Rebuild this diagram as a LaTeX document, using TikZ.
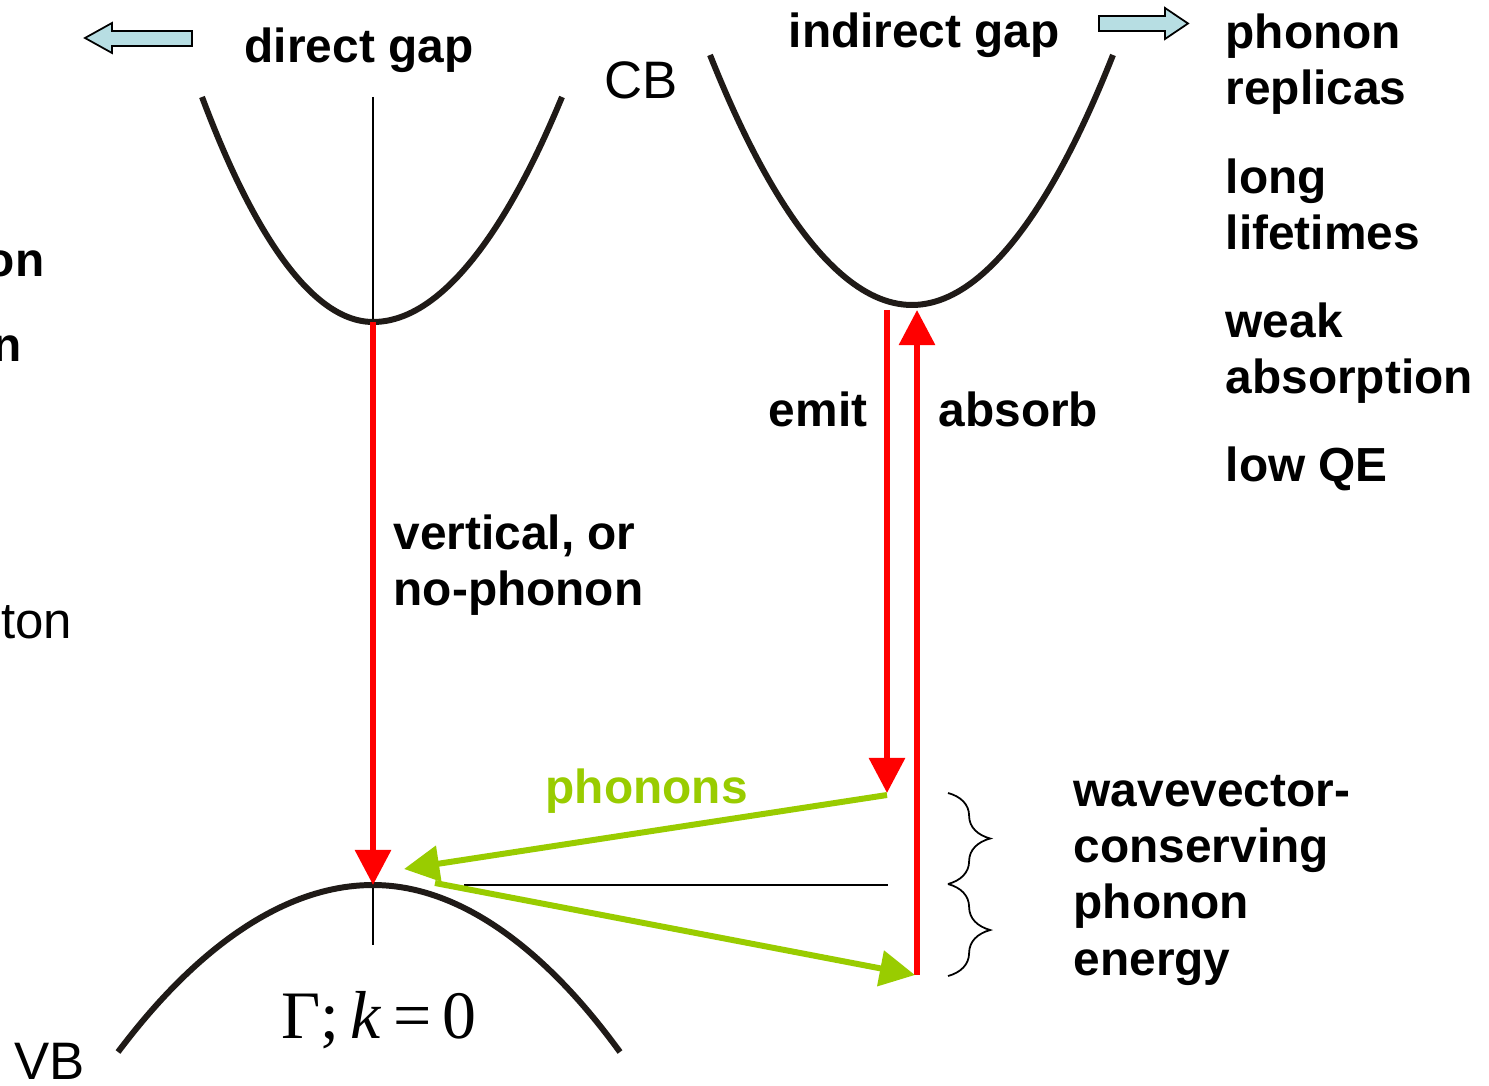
\documentclass[tikz,border=0pt]{standalone}
\usepackage[no-math]{fontspec}
\setmainfont{Liberation Sans}
\newfontfamily\serifface{Liberation Serif}
\usetikzlibrary{arrows.meta,decorations.pathreplacing}
\definecolor{cred}{HTML}{FF0000}
\definecolor{cgreen}{HTML}{99CC00}
\definecolor{cblue}{HTML}{B7DEE3}
\definecolor{cband}{HTML}{1F1A17}
\begin{document}
\begin{tikzpicture}[x=0.01cm,y=-0.01cm,
  band/.style={draw=cband,line width=1.7pt},
  thinline/.style={draw=black,line width=0.55pt},
  redarr/.style={draw=cred,line width=1.7pt,-{Triangle[length=10pt,width=10pt]}},
  grnarr/.style={draw=cgreen,line width=1.7pt,-{Triangle[length=10pt,width=10pt]}},
  blk/.style={draw=black,fill=cblue,line width=0.5pt},
  bt/.style={font=\fontsize{13.6}{16.2}\selectfont\bfseries,inner sep=0pt,anchor=base west,align=left},
  rt/.style={font=\fontsize{15}{18}\selectfont,inner sep=0pt,anchor=base west},
  brc/.style={draw=black,line width=0.5pt,decorate,decoration={brace,amplitude=12pt,aspect=0.5}}]
\useasboundingbox (0,0) rectangle (1489,1086);
\fill[white] (0,0) rectangle (1489,1086);

% key points
\coordinate (dcb) at (373,322);
\coordinate (dtop) at (373,97);
\coordinate (dvb) at (373,885);
\coordinate (dbot) at (373,945);
\coordinate (icb) at (912,305);
\coordinate (hl) at (464,885);
\coordinate (hr) at (888,885);
\coordinate (es) at (887,310);
\coordinate (ee) at (887,793);
\coordinate (as) at (917,975);
\coordinate (ae) at (917,310);
\coordinate (g1s) at (887,795);
\coordinate (g1e) at (404,869);
\coordinate (g2s) at (435,883);
\coordinate (g2e) at (915,975);
\coordinate (b1) at (948,793);
\coordinate (b2) at (948,884);
\coordinate (b3) at (948,976);

% thin guide lines
\draw[thinline] (dtop) -- (dcb);
\draw[thinline] (dvb) -- (dbot);
\draw[thinline] (hl) -- (hr);

% bands
\draw[band] (202,97) parabola bend (dcb) (562,97);
\draw[band] (710,55) parabola bend (icb) (1113,55);
\draw[band] (118,1052) parabola bend (dvb) (620,1052);

% transitions
\draw[redarr] (dcb) -- (dvb);
\draw[redarr] (es) -- (ee);
\draw[redarr] (as) -- (ae);
\draw[grnarr] (g1s) -- (g1e);
\draw[grnarr] (g2s) -- (g2e);

% braces
\draw[brc] (b1) -- (b2);
\draw[brc] (b2) -- (b3);

% block arrows
\draw[blk] (85,38) -- (112,23) -- (112,31) -- (192,31) -- (192,46) -- (112,46) -- (112,53) -- cycle;
\draw[blk] (1188,23.5) -- (1165,8) -- (1165,16) -- (1099,16) -- (1099,31) -- (1165,31) -- (1165,39) -- cycle;

% labels (multi-line nodes are placed at the baseline of their last line)
\node[bt] (tdirect) at (244,63) {direct gap};
\node[bt] (tindirect) at (788,48) {indirect gap};
\node[rt] (tcb) at (604,99) {CB};
\node[rt] (tvb) at (14,1079) {VB};
\node[bt] (trep) at (1225,105) {phonon\\replicas};
\node[bt] (tlife) at (1225,250) {long\\lifetimes};
\node[bt] (tabs) at (1225,394) {weak\\absorption};
\node[bt] (tqe) at (1225,482) {low QE};
\node[bt,anchor=base east] (temit) at (868,427) {emit};
\node[bt] (tabsorb) at (938,427) {absorb};
\node[bt] (tvert) at (393,606) {vertical, or\\no-phonon};
\node[bt,text=cgreen] (tphon) at (545,803) {phonons};
\node[bt,font=\fontsize{13.6}{16}\selectfont\bfseries] (twave) at (1073,975) {wavevector-\\conserving\\phonon\\energy};
\node[font=\fontsize{19.3}{22}\serifface,inner sep=0pt,anchor=base] (tgam) at (379,1038) {Γ;\,\textit{k}\,=\,0};

% text cut by the left edge
\begin{scope}
\clip (0,0) rectangle (1489,1086);
\node[bt,anchor=base east] (ton) at (45,277) {on};
\node[bt,anchor=base east] (tn) at (22,362) {n};
\node[rt,font=\fontsize{14.5}{17}\selectfont,anchor=base east] (titon) at (73,639) {iton};
\end{scope}
\end{tikzpicture}
\end{document}
